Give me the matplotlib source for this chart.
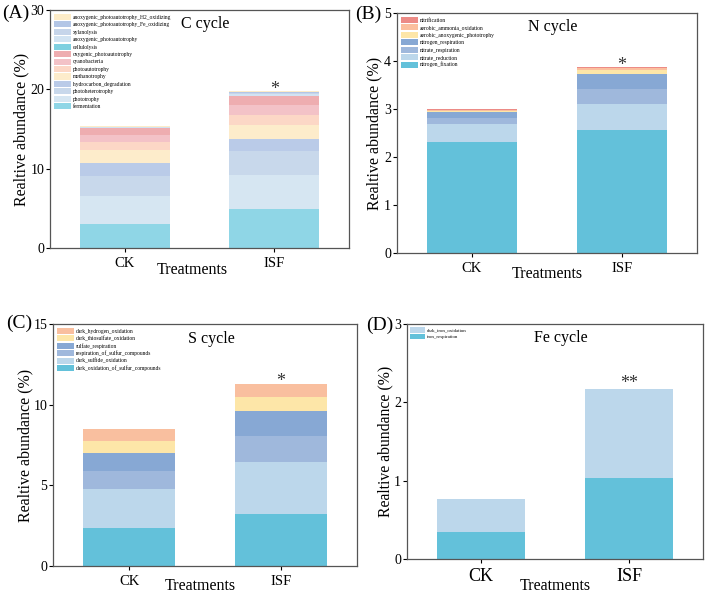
import matplotlib.pyplot as plt
import numpy as np

plt.rcParams['font.family'] = ['Liberation Serif', 'DejaVu Serif']

treatments = ['CK', 'ISF']

# C cycle (bottom -> top)
c_names = ['fermentation', 'phototrophy', 'photoheterotrophy', 'hydrocarbon_degradation',
           'methanotrophy', 'photoautotrophy', 'cyanobacteria', 'oxygenic_photoautotrophy',
           'cellulolysis', 'anoxygenic_photoautotrophy', 'xylanolysis',
           'anoxygenic_photoautotrophy_Fe_oxidizing', 'anoxygenic_photoautotrophy_H2_oxidizing']
c_ck = [3.0, 3.55, 2.55, 1.6, 1.6, 1.0, 0.9, 0.95, 0.02, 0.06, 0.03, 0.02, 0.04]
c_isf = [4.92, 4.28, 3.07, 1.53, 1.7, 1.25, 1.25, 1.16, 0.05, 0.25, 0.1, 0.1, 0.15]
c_colors = ['#8fd6e6', '#d6e6f2', '#c8d8eb', '#bacbe8', '#fdeccb', '#fcd7c6', '#f3c2c7',
            '#eeadb0', '#7fd0e0', '#d2e3f2', '#c6d5ea', '#b3c6e6', '#fdecc8']

# N cycle
n_names = ['nitrogen_fixation', 'nitrate_reduction', 'nitrate_respiration', 'nitrogen_respiration',
           'aerobic_anoxygenic_phototrophy', 'aerobic_ammonia_oxidation', 'nitrification']
n_ck = [2.32, 0.37, 0.12, 0.12, 0.035, 0.02, 0.015]
n_isf = [2.56, 0.54, 0.32, 0.30, 0.10, 0.03, 0.03]
n_colors = ['#63c1da', '#bcd7eb', '#9fb8dc', '#87a8d4', '#fde6a8', '#fbbf9e', '#ec8b86']

# S cycle
s_names = ['dark_oxidation_of_sulfur_compounds', 'dark_sulfide_oxidation',
           'respiration_of_sulfur_compounds', 'sulfate_respiration',
           'dark_thiosulfate_oxidation', 'dark_hydrogen_oxidation']
s_ck = [2.36, 2.40, 1.12, 1.10, 0.77, 0.72]
s_isf = [3.21, 3.21, 1.64, 1.55, 0.89, 0.81]
s_colors = ['#63c1da', '#bcd7eb', '#9fb8dc', '#87a8d4', '#fde6a8', '#f9bf9f']

# Fe cycle
f_names = ['iron_respiration', 'dark_iron_oxidation']
f_ck = [0.35, 0.41]
f_isf = [1.04, 1.13]
f_colors = ['#63c1da', '#bcd7eb']


def panel(ax, names, ck, isf, colors, ymax, yticks, title, letter, star,
          leg_fs=4.0, tick_fs=10.5, lab_fs=11.5, xlab_x=0.5, xlab_off=21,
          let_dx=-45, let_dy=-1, star_off=-1.0, ylpad=1.0):
    x = np.arange(len(treatments))
    bottom = np.zeros(2)
    handles = []
    for nm, a, b, col in zip(names, ck, isf, colors):
        vals = np.array([a, b])
        h = ax.bar(x, vals, 0.6, bottom=bottom, color=col, label=nm, linewidth=0)
        handles.append(h)
        bottom += vals
    ax.set_xlim(-0.5, 1.5)
    ax.set_ylim(0, ymax)
    ax.set_yticks(yticks)
    ax.set_xticks(x)
    ax.set_xticklabels(treatments, fontsize=tick_fs)
    ax.tick_params(axis='y', labelsize=10, length=3, pad=1.2, direction='out')
    ax.tick_params(axis='x', length=3, direction='out')
    for sp in ax.spines.values():
        sp.set_color('#555555')
        sp.set_linewidth(0.9)
    ax.set_ylabel('Realtive abundance (%)', fontsize=lab_fs, labelpad=ylpad)
    ax.annotate('Treatments', xy=(xlab_x, 0), xycoords='axes fraction',
                xytext=(0, -xlab_off * 0.72), textcoords='offset points',
                ha='center', va='center', fontsize=11.5)
    ax.text(0.52, 0.94, title, transform=ax.transAxes, ha='center', va='center', fontsize=11.5)
    ax.annotate(letter, xy=(0, 1), xycoords='axes fraction',
                xytext=(let_dx * 0.72, let_dy * 0.72), textcoords='offset points',
                ha='left', va='center', fontsize=14)
    ax.annotate(star, xy=(1, bottom[1]), xytext=(0, star_off), textcoords='offset points',
                ha='center', va='baseline', fontsize=13, color='#333333')
    ax.legend(handles[::-1], names[::-1], loc='upper left', frameon=False,
              fontsize=leg_fs, handlelength=3.0, handleheight=1.3,
              labelspacing=0.25, borderaxespad=0.3, handletextpad=0.4)


fig = plt.figure(figsize=(7.08, 5.95), dpi=100)
W, H = 708, 595
axA = fig.add_axes([50 / W, 1 - 248 / H, 299 / W, 238 / H])
axB = fig.add_axes([397 / W, 1 - 253 / H, 300 / W, 240 / H])
axC = fig.add_axes([53 / W, 1 - 566 / H, 304 / W, 242 / H])
axD = fig.add_axes([407 / W, 1 - 559 / H, 296 / W, 235 / H])

panel(axA, c_names, c_ck, c_isf, c_colors, 30, [0, 10, 20, 30], 'C cycle', '(A)', '*',
      xlab_x=0.477, xlab_off=22, let_dx=-48, let_dy=-3, star_off=-2.5, ylpad=0.5)
panel(axB, n_names, n_ck, n_isf, n_colors, 5, [0, 1, 2, 3, 4, 5], 'N cycle', '(B)', '*',
      xlab_off=21, let_dx=-42, let_dy=-1, star_off=-2.5, ylpad=1.0)
panel(axC, s_names, s_ck, s_isf, s_colors, 15, [0, 5, 10, 15], 'S cycle', '(C)', '*',
      xlab_x=0.485, xlab_off=20, let_dx=-47, let_dy=1, star_off=-1.5, ylpad=-0.3)
panel(axD, f_names, f_ck, f_isf, f_colors, 3, [0, 1, 2, 3], 'Fe cycle', '(D)', '**', leg_fs=3.5,
      tick_fs=13, lab_fs=11.3, xlab_off=27, let_dx=-41, let_dy=-1, star_off=1.0, ylpad=0.2)

fig.savefig('out.png', dpi=100)
